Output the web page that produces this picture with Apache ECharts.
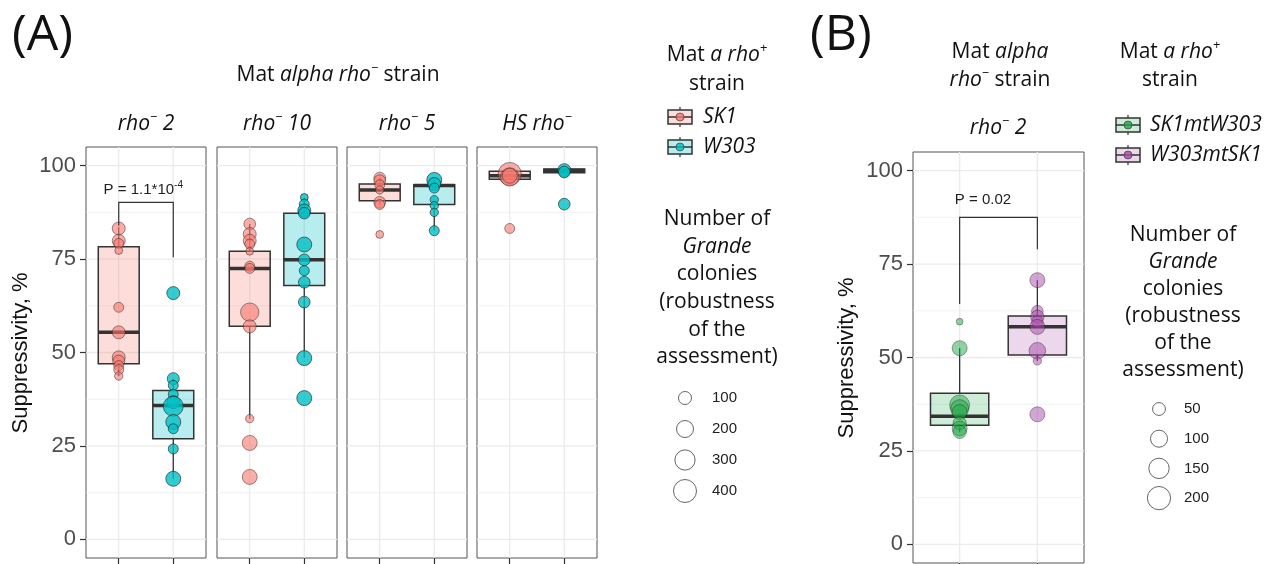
<!DOCTYPE html>
<html lang="en">
<head>
<meta charset="UTF-8">
<title>Suppressivity</title>
<script src="https://cdn.jsdelivr.net/npm/echarts@6/dist/echarts.min.js"></script>
<style>html,body{margin:0;padding:0;background:#fff;}</style>
</head>
<body>
<div id="main" style="width:1283px;height:564px;"></div>
<script>
// ---- data ----
var facetsA = ['rho⁻ 2', 'rho⁻ 10', 'rho⁻ 5', 'HS rho⁻'];
var facetB = 'rho⁻ 2';
var strainsA = ['SK1', 'W303'];
var strainsB = ['SK1mtW303', 'W303mtSK1'];
var yTicks = [0, 25, 50, 75, 100];
var yMinor = [12.5, 37.5, 62.5, 87.5];
var sizeLegendA = [100, 200, 300, 400];
var sizeLegendB = [50, 100, 150, 200];

// points: [suppressivity %, number of Grande colonies]
var sk1Rho2 = [[83.2,100],[79.9,100],[79.2,42],[77.3,10],[62.1,42],[55.4,100],[48.7,100],[47.7,80],[46.5,42],[45.4,42],[43.7,17]];
var w303Rho2 = [[65.9,100],[43.0,80],[41.2,42],[38.8,42],[36.7,100],[35.6,290],[31.4,146],[29.6,42],[24.2,42],[16.2,146]];
var sk1Rho10 = [[84.4,73],[81.7,100],[79.9,100],[79.0,42],[77.1,10],[73.1,42],[72.5,42],[60.8,240],[57.0,100],[32.3,17],[25.8,146],[16.7,146]];
var w303Rho10 = [[91.5,10],[89.7,42],[88.0,100],[87.3,73],[78.9,146],[74.8,73],[71.9,42],[68.8,73],[63.5,73],[48.5,146],[37.8,146]];
var sk1Rho5 = [[96.7,73],[96.0,73],[94.9,42],[93.5,17],[90.2,73],[89.6,42],[81.6,10]];
var w303Rho5 = [[96.2,146],[95.1,100],[94.0,42],[90.9,17],[89.3,17],[87.5,17],[82.6,42]];
var sk1HS = [[97.8,400],[97.0,240],[97.3,146],[83.2,42]];
var w303HS = [[98.8,100],[98.3,73],[89.7,73]];
var sk1mtW303 = [[59.6,2],[52.5,74],[37.3,144],[36.3,114],[35.4,74],[32.4,55],[31.0,74],[30.1,55]];
var w303mtSK1 = [[70.7,74],[62.4,38],[60.9,55],[59.6,38],[58.2,74],[51.8,95],[49.1,12],[34.8,74]];

// boxes: [lower whisker, q1, median, q3, upper whisker]
var sk1Boxes = [[43.7,47.0,55.4,78.3,83.5],[32.3,57.0,72.5,77.1,84.4],[89.6,90.6,93.5,95.1,96.7],[96.4,96.4,97.3,98.5,98.7]];
var w303Boxes = [[16.2,26.9,35.8,39.8,43.0],[48.5,67.9,74.8,87.3,91.5],[82.6,89.6,94.7,94.9,96.2],[98.1,98.1,98.7,99.1,99.3]];
var sk1mtW303Box = [30.1,31.9,34.3,40.4,52.5];
var w303mtSK1Box = [49.1,50.7,58.2,61.1,70.7];

// significance brackets: [x1, x2, top, left end, right end, label x, label y]
var bracketA = [1, 2, 90.2, 84, 75.5, 1.45, 93.6];
var bracketB = [1, 2, 87.5, 64.3, 79.0, 1.3, 92.2];
var pLabelA = ['P = 1.1*10', '-4'];
var pLabelB = ['P = 0.02', ''];

// ---- styling ----
var colA = ['#F8766D', '#00BFC4'];
var fillA = ['rgba(248,118,109,0.25)', 'rgba(0,191,196,0.28)'];
var alphaA = [0.6, 0.8];
var colB = ['#22A848', '#A94AAB'];
var fillB = ['rgba(34,168,72,0.22)', 'rgba(169,74,171,0.22)'];
var alphaB = [0.5, 0.5];
var boxWidth = 0.75;
function sizeA(n) { return Math.sqrt(49 + 1.2 * n); }
function sizeB(n) { return Math.sqrt(40 + 2.5 * n); }

var gridPos = [
    {left: 86, top: 147, width: 120, height: 411},
    {left: 217, top: 147, width: 120, height: 411},
    {left: 347, top: 147, width: 120, height: 411},
    {left: 477, top: 147, width: 120, height: 411},
    {left: 913, top: 152, width: 171, height: 411}
];

var gridData = [];
yTicks.forEach(function (v) { gridData.push([0, v]); });
yMinor.forEach(function (v) { gridData.push([1, v]); });
gridData.push([2, 1], [2, 2]);

function renderGrid(params, api) {
    var kind = api.value(0), v = api.value(1), a, b;
    if (kind === 2) { a = api.coord([v, -5]); b = api.coord([v, 105]); }
    else { a = api.coord([0.4, v]); b = api.coord([2.6, v]); }
    return {type: 'line', silent: true,
        shape: {x1: a[0], y1: a[1], x2: b[0], y2: b[1]},
        style: {stroke: '#EBEBEB', lineWidth: kind === 1 ? 0.7 : 1.3}};
}

function renderBox(params, api) {
    var x = api.value(0), hw = boxWidth / 2;
    var lo = api.coord([x, api.value(1)]), q1 = api.coord([x, api.value(2)]),
        md = api.coord([x, api.value(3)]), q3 = api.coord([x, api.value(4)]),
        hi = api.coord([x, api.value(5)]);
    var l = api.coord([x - hw, 0])[0], r = api.coord([x + hw, 0])[0];
    return {type: 'group', children: [
        {type: 'line', shape: {x1: lo[0], y1: lo[1], x2: q1[0], y2: q1[1]}, style: {stroke: '#333', lineWidth: 1.3}},
        {type: 'line', shape: {x1: q3[0], y1: q3[1], x2: hi[0], y2: hi[1]}, style: {stroke: '#333', lineWidth: 1.3}},
        {type: 'rect', shape: {x: l, y: q3[1], width: r - l, height: q1[1] - q3[1]},
            style: {fill: api.visual('color'), stroke: '#333', lineWidth: 1.5}},
        {type: 'line', shape: {x1: l, y1: md[1], x2: r, y2: md[1]}, style: {stroke: '#333', lineWidth: 3.5}}
    ]};
}

function bracketRenderer(label) {
    return function (params, api) {
        var x1 = api.value(0), x2 = api.value(1);
        var p1 = api.coord([x1, api.value(3)]), p2 = api.coord([x1, api.value(2)]),
            p3 = api.coord([x2, api.value(2)]), p4 = api.coord([x2, api.value(4)]);
        var t = api.coord([api.value(5), api.value(6)]);
        var text = '{b|' + label[0] + '}' + (label[1] ? '{s|' + label[1] + '}' : '');
        return {type: 'group', children: [
            {type: 'polyline', shape: {points: [p1, p2, p3, p4]}, style: {stroke: '#333', lineWidth: 1.2, fill: null}},
            {type: 'text', x: t[0], y: t[1], style: {text: text, align: 'center', verticalAlign: 'middle',
                rich: {b: {fontSize: 15, lineHeight: 18, fontFamily: 'Liberation Sans', fill: '#222'},
                       s: {fontSize: 10, lineHeight: 10, verticalAlign: 'top', fontFamily: 'Liberation Sans', fill: '#222'}}}}
        ]};
    };
}

var grids = [], xAxes = [], yAxes = [], series = [];
gridPos.forEach(function (g, i) {
    var showY = (i === 0 || i === 4);
    grids.push(Object.assign({show: true, borderColor: '#555', borderWidth: 1, backgroundColor: '#fff'}, g));
    xAxes.push({type: 'value', gridIndex: i, min: 0.4, max: 2.6,
        splitLine: {show: false}, axisLine: {show: false, onZero: false},
        axisLabel: {show: false},
        axisTick: {show: true, customValues: [1, 2], length: 6, lineStyle: {color: '#333', width: 1.2}}});
    yAxes.push({type: 'value', gridIndex: i, min: -5, max: 105,
        splitLine: {show: false}, axisLine: {show: false, onZero: false},
        axisTick: {show: showY, customValues: yTicks, length: 6, lineStyle: {color: '#333', width: 1.2}},
        axisLabel: {show: showY, customValues: yTicks, fontSize: 22, color: '#4D4D4D',
            fontFamily: 'Liberation Sans', margin: 10}});
    series.push({type: 'custom', xAxisIndex: i, yAxisIndex: i, renderItem: renderGrid,
        data: gridData, silent: true, z: 1});
});

function addGroups(gi, groups, fills, cols, alphas, sizeFn) {
    groups.forEach(function (g, k) {
        series.push({type: 'custom', xAxisIndex: gi, yAxisIndex: gi, renderItem: renderBox,
            itemStyle: {color: fills[k]}, data: [[k + 1].concat(g.box)], z: 2, silent: true});
    });
    groups.forEach(function (g, k) {
        series.push({type: 'scatter', xAxisIndex: gi, yAxisIndex: gi,
            data: g.pts.map(function (p) { return [k + 1, p[0], p[1]]; }),
            symbolSize: function (v) { return sizeFn(v[2]); },
            itemStyle: {color: cols[k], opacity: alphas[k], borderColor: '#222', borderWidth: 0.8},
            z: 3, silent: true});
    });
}

var ptsA = [[sk1Rho2, w303Rho2], [sk1Rho10, w303Rho10], [sk1Rho5, w303Rho5], [sk1HS, w303HS]];
ptsA.forEach(function (pair, i) {
    addGroups(i, [{pts: pair[0], box: sk1Boxes[i]}, {pts: pair[1], box: w303Boxes[i]}], fillA, colA, alphaA, sizeA);
});
addGroups(4, [{pts: sk1mtW303, box: sk1mtW303Box}, {pts: w303mtSK1, box: w303mtSK1Box}], fillB, colB, alphaB, sizeB);

series.push({type: 'custom', xAxisIndex: 0, yAxisIndex: 0, renderItem: bracketRenderer(pLabelA), data: [bracketA], z: 4, silent: true});
series.push({type: 'custom', xAxisIndex: 4, yAxisIndex: 4, renderItem: bracketRenderer(pLabelB), data: [bracketB], z: 4, silent: true});

// ---- texts and legends ----
var FONT = 'Open Sans';
var graphics = [];

// turn "rho⁻ 2" into rich tokens, with the sign drawn as a small raised glyph
function rt(str, base) {
    return str.split(/([⁻⁺])/).filter(Boolean).map(function (p) {
        if (p === '⁻') return '{' + base + 's|−}';
        if (p === '⁺') return '{' + base + 's|+}';
        return '{' + base + '|' + p + '}';
    }).join('');
}
function txt(x, y, text, size, opts) {
    opts = opts || {};
    var fam = opts.family || FONT, fill = opts.fill || '#111';
    var lh = Math.round(size * 1.3), ss = Math.round(size * 0.6);
    graphics.push({type: 'text', x: x, y: y, rotation: opts.rotation || 0, silent: true,
        style: {text: text, fontSize: size, fontFamily: fam, fill: fill,
            align: opts.align || 'center', verticalAlign: 'middle',
            rich: {
                n: {fontSize: size, lineHeight: lh, fontFamily: fam, fill: fill},
                i: {fontSize: size, lineHeight: lh, fontFamily: fam, fontStyle: 'italic', fill: fill},
                ns: {fontSize: ss, lineHeight: ss + 4, verticalAlign: 'top', fontFamily: fam, fill: fill},
                is: {fontSize: ss, lineHeight: ss + 4, verticalAlign: 'top', fontFamily: fam, fontStyle: 'italic', fill: fill}
            }}});
}
function keyIcon(cx, cy, fill, col) {
    graphics.push({type: 'group', silent: true, children: [
        {type: 'line', shape: {x1: cx, y1: cy - 10, x2: cx, y2: cy + 10}, style: {stroke: '#333', lineWidth: 1.2}},
        {type: 'rect', shape: {x: cx - 12, y: cy - 7, width: 24, height: 14}, style: {fill: '#fff', stroke: null}},
        {type: 'rect', shape: {x: cx - 12, y: cy - 7, width: 24, height: 14}, style: {fill: fill, stroke: '#333', lineWidth: 1.5}},
        {type: 'line', shape: {x1: cx - 12, y1: cy, x2: cx + 12, y2: cy}, style: {stroke: '#333', lineWidth: 1.5}},
        {type: 'circle', shape: {cx: cx, cy: cy, r: 4}, style: {fill: col, opacity: 0.8, stroke: '#333', lineWidth: 0.8}}
    ]});
}

txt(12, 36, '{n|(A)}', 50, {align: 'left'});
txt(338, 75, '{n|Mat }' + rt('alpha rho⁻', 'i') + '{n| strain}', 21);
facetsA.forEach(function (f, i) {
    txt(gridPos[i].left + gridPos[i].width / 2, 124, rt(f, 'i'), 21);
});
txt(21, 353, '{n|Suppressivity, %}', 22, {rotation: Math.PI / 2, family: 'Liberation Sans'});

txt(717, 55, '{n|Mat }' + rt('a rho⁺', 'i'), 21);
txt(717, 84, '{n|strain}', 21);
strainsA.forEach(function (s, k) {
    keyIcon(680, 117 + 30 * k, fillA[k], colA[k]);
    txt(703, 117 + 30 * k, '{i|' + s + '}', 21, {align: 'left'});
});
var sizeTitle = ['{n|Number of}', '{i|Grande}', '{n|colonies}', '{n|(robustness}', '{n|of the}', '{n|assessment)}'];
sizeTitle.forEach(function (s, k) { txt(717, 219 + 27.7 * k, s, 21); });
sizeLegendA.forEach(function (n, k) {
    graphics.push({type: 'circle', silent: true, shape: {cx: 685, cy: 398 + 31 * k, r: sizeA(n) / 2},
        style: {fill: '#fff', stroke: '#666', lineWidth: 1}});
    txt(712, 398 + 31 * k, '{n|' + n + '}', 15, {align: 'left', family: 'Liberation Sans', fill: '#222'});
});

txt(810, 36, '{n|(B)}', 50, {align: 'left'});
txt(1000, 52, '{n|Mat }{i|alpha}', 21);
txt(1000, 80, rt('rho⁻', 'i') + '{n| strain}', 21);
txt(998, 128, rt(facetB, 'i'), 21);
txt(847, 358, '{n|Suppressivity, %}', 22, {rotation: Math.PI / 2, family: 'Liberation Sans'});
txt(1170, 52, '{n|Mat }' + rt('a rho⁺', 'i'), 21);
txt(1170, 80, '{n|strain}', 21);
strainsB.forEach(function (s, k) {
    keyIcon(1128, 125 + 30 * k, fillB[k], colB[k]);
    txt(1150, 125 + 30 * k, '{i|' + s + '}', 21, {align: 'left'});
});
sizeTitle.forEach(function (s, k) { txt(1183, 235 + 27 * k, s, 21); });
sizeLegendB.forEach(function (n, k) {
    graphics.push({type: 'circle', silent: true, shape: {cx: 1159, cy: 409 + 29.7 * k, r: sizeB(n) / 2},
        style: {fill: '#fff', stroke: '#666', lineWidth: 1}});
    txt(1184, 409 + 29.7 * k, '{n|' + n + '}', 15, {align: 'left', family: 'Liberation Sans', fill: '#222'});
});

var chart = echarts.init(document.getElementById('main'));
chart.setOption({
    animation: false,
    backgroundColor: '#fff',
    grid: grids,
    xAxis: xAxes,
    yAxis: yAxes,
    series: series,
    graphic: graphics
});
</script>
</body>
</html>
